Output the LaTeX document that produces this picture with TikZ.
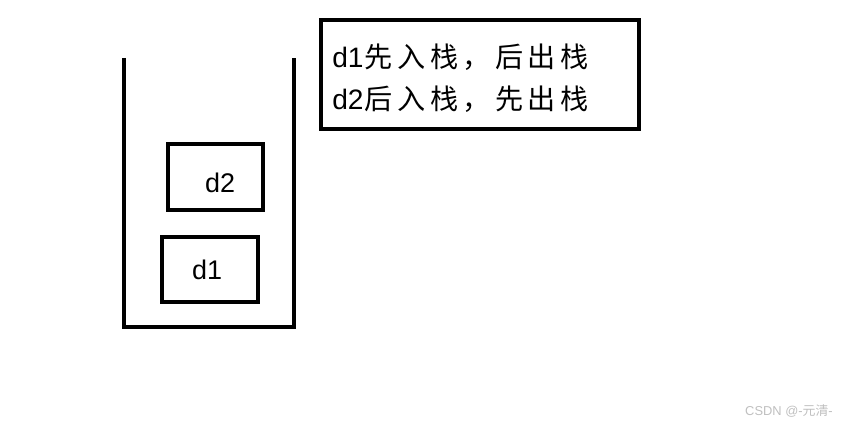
\documentclass[tikz,border=0pt]{standalone}
\usepackage{fontspec}
\setmainfont{Liberation Sans}
\newfontfamily\cjk[LetterSpace=16]{Noto Sans CJK SC}
\newfontfamily\cjkplain{Noto Sans CJK SC}
\usetikzlibrary{positioning}

\begin{document}
\begin{tikzpicture}[x=0.03cm, y=-0.03cm,
  wall/.style={line width=3.4pt},
  item/.style={draw, line width=3.4pt, minimum width=2.88cm, minimum height=1.96cm, inner sep=0pt, text height=17pt, text depth=0pt, font=\fontsize{23}{27}\selectfont},
  note/.style={draw, line width=3.4pt, minimum width=9.54cm, minimum height=3.27cm, text width=9cm, inner sep=0pt, align=left, font=\fontsize{24}{36}\selectfont}
]
  \useasboundingbox (0,0) rectangle (845,427);

  % the stack
  \draw[wall] (124,58) -- (124,327) -- (294,327) -- (294,58);

  \node[item, minimum width=2.85cm] (dtwo) at (215.5,177) {\raisebox{-5pt}{\hspace{8pt}d2}};
  \node[item, minimum height=1.95cm] (done) at (210,269.5) {\hspace{-5pt}d1};

  \node[note] (rule) at (480,74.5) {\rule{0pt}{26pt}\hspace{2pt}d1\kern1pt{\cjk 先入栈，后出栈}\\\hspace{2pt}d2\kern1pt{\cjk 后入栈，先出栈}};

  \node[text=black!25, font=\fontsize{11}{13}\selectfont, anchor=east, inner sep=0pt] (mark) at (833,411) {CSDN @-{\cjkplain 元清}-};
\end{tikzpicture}
\end{document}
